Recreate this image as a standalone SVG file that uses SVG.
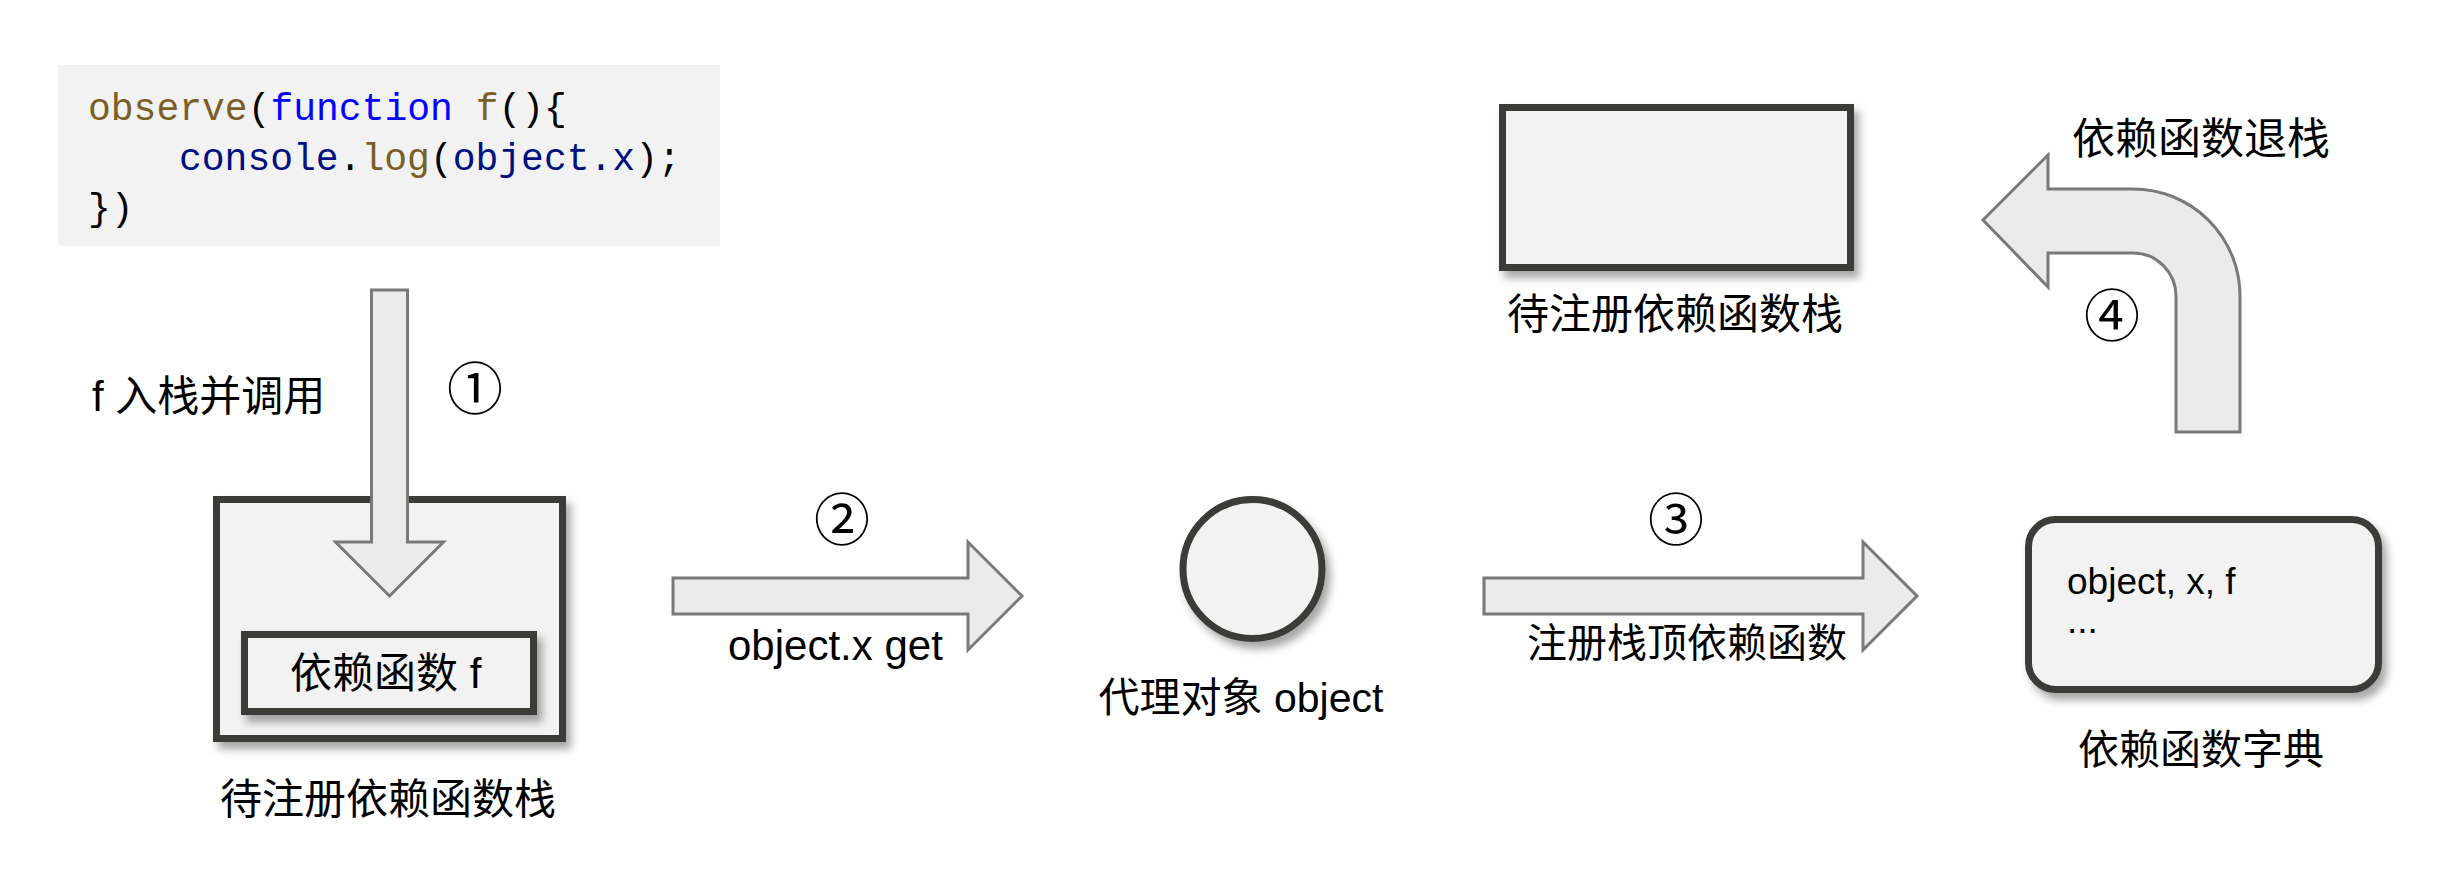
<svg xmlns="http://www.w3.org/2000/svg" width="2440" height="890" viewBox="0 0 2440 890">
<defs>
<filter id="sh" x="-10%" y="-10%" width="130%" height="140%">
<feDropShadow dx="5" dy="7" stdDeviation="4" flood-color="#000" flood-opacity="0.35"/>
</filter>
<style>
.box{fill:#f2f2f2;stroke:#3b3a39;stroke-width:7;filter:url(#sh)}
.arr{fill:#ebebeb;stroke:#7b7978;stroke-width:3;stroke-linejoin:miter}
.lbl{font-family:"Liberation Sans","Noto Sans CJK SC",sans-serif;fill:#000}
.cjk{font-family:"Noto Sans CJK SC","Liberation Sans",sans-serif;fill:#000}
.num{font-family:"Noto Sans CJK SC",sans-serif;font-size:56px;fill:#000;text-anchor:middle}
.code{font-family:"Liberation Mono",monospace;font-size:38px;fill:#000}
.br{fill:#795e26}.kw{fill:#0000ff}.nv{fill:#001080}
</style>
</defs>
<rect width="2440" height="890" fill="#fff"/>

<g id="code">
<rect x="58" y="65" width="662" height="181" fill="#f2f2f2"/>
<text class="code" x="88" y="120" xml:space="preserve"><tspan class="br">observe</tspan>(<tspan class="kw">function</tspan> <tspan class="br">f</tspan>(){</text>
<text class="code" x="179" y="170" xml:space="preserve"><tspan class="nv">console</tspan>.<tspan class="br">log</tspan>(<tspan class="nv">object.x</tspan>);</text>
<text class="code" x="88" y="220">})</text>
</g>

<g id="stack-left">
<rect class="box" x="216.5" y="499.5" width="346" height="239"/>
<text class="cjk" x="388" y="814" font-size="42" text-anchor="middle">待注册依赖函数栈</text>
</g>

<g id="proxy">
<circle class="box" cx="1252.5" cy="569" r="69.5"/>
<text class="lbl" x="1241" y="712" font-size="41" text-anchor="middle">代理对象 object</text>
</g>

<g id="dict">
<rect class="box" x="2028.5" y="519.5" width="350" height="170" rx="27" ry="27"/>
<text class="lbl" x="2067" y="594" font-size="37">object, x, f<tspan x="2067" dy="39">...</tspan></text>
<text class="cjk" x="2201" y="764" font-size="41" text-anchor="middle">依赖函数字典</text>
</g>

<g id="stack-top">
<rect class="box" x="1502.5" y="107.5" width="348" height="160"/>
<text class="cjk" x="1675" y="329" font-size="42" text-anchor="middle">待注册依赖函数栈</text>
</g>

<g id="connectors">
<path class="arr" d="M371.5 290 L407.5 290 L407.5 542 L443.5 542 L389.5 596 L335.5 542 L371.5 542 Z"/>
<text class="lbl" x="92" y="411" font-size="42">f 入栈并调用</text>
<text class="num" x="475" y="409">①</text>

<path class="arr" d="M673 578 L968 578 L968 542 L1022 596 L968 650 L968 614 L673 614 Z"/>
<text class="num" x="842" y="540">②</text>
<text class="lbl" x="728" y="660" font-size="42">object.x get</text>

<path class="arr" d="M1484 578 L1863 578 L1863 542 L1917 596 L1863 650 L1863 614 L1484 614 Z"/>
<text class="num" x="1676" y="540">③</text>
<text class="cjk" x="1527" y="657" font-size="40">注册栈顶依赖函数</text>

<path class="arr" d="M1983 220 L2048 155 L2048 189 L2133 189 A107 107 0 0 1 2240 296 L2240 432 L2176 432 L2176 296 A43 43 0 0 0 2133 253 L2048 253 L2048 287 Z"/>
<text class="num" x="2112" y="336">④</text>
<text class="cjk" x="2072" y="154" font-size="43">依赖函数退栈</text>
</g>

<g id="dep-f">
<rect class="box" x="244.5" y="634.5" width="289" height="77"/>
<text class="lbl" x="290" y="688" font-size="42">依赖函数 f</text>
</g>
</svg>
